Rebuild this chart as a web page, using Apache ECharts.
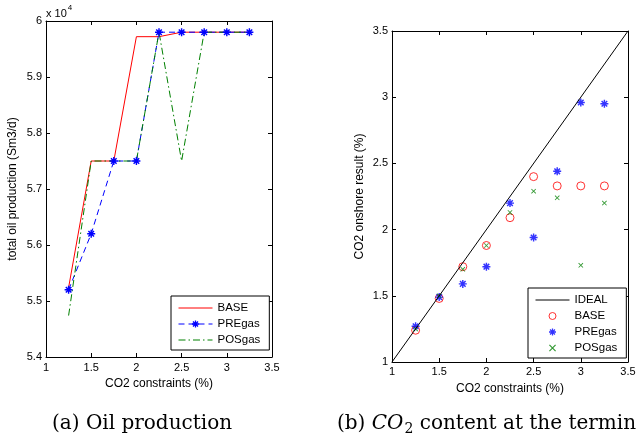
<!DOCTYPE html>
<html><head><meta charset="utf-8">
<script src="https://cdn.jsdelivr.net/npm/echarts@6/dist/echarts.min.js"></script>
<style>html,body{margin:0;padding:0;background:#fff}#c{width:636px;height:436px}</style>
</head><body><div id="c"></div>
<script>
// ---- data ----
const xCons = [1.25, 1.5, 1.75, 2, 2.25, 2.5, 2.75, 3, 3.25];
// (a) total oil production, units of 10^4 Sm3/d
const oilBase = [5.524, 5.75, 5.75, 5.972, 5.972, 5.98, 5.98, 5.98, 5.98];
const oilPre  = [5.52, 5.62, 5.75, 5.75, 5.98, 5.98, 5.98, 5.98, 5.98];
const oilPos  = [5.474, 5.75, 5.75, 5.75, 5.98, 5.75, 5.98, 5.98, 5.98];
// (b) CO2 onshore result (%)
const idealX = [1, 3.5];
const idealY = [1, 3.5];
const co2Base = [1.24, 1.48, 1.72, 1.88, 2.09, 2.40, 2.33, 2.33, 2.33];
const co2Pre  = [1.27, 1.49, 1.59, 1.72, 2.20, 1.94, 2.44, 2.96, 2.95];
const co2Pos  = [1.25, 1.50, 1.70, 1.88, 2.13, 2.29, 2.24, 1.73, 2.20];
const legendA = ['BASE', 'PREgas', 'POSgas'];
const legendB = ['IDEAL', 'BASE', 'PREgas', 'POSgas'];

const pair = (xs, ys) => xs.map((x, i) => [x, ys[i]]);
const STAR = 'path://M41,0L59,0L59,100L41,100ZM0,41L100,41L100,59L0,59ZM21.5,8.7L91.3,78.5L78.5,91.3L8.7,21.5ZM91.3,21.5L21.5,91.3L8.7,78.5L78.5,8.7Z';
const CROSS = 'path://M12,0L100,88L88,100L0,12ZM88,0L100,12L12,100L0,88Z';
const FONT = 'Liberation Sans';
const SERIF = 'DejaVu Serif';
const tickTxt = {color: '#000', fontSize: 11, fontFamily: FONT};
const blackLine = {lineStyle: {color: '#000', width: 1}};

function axisPair(kind, gi, min, max, interval, fmt, name, nameGap, margin) {
  const main = {
    type: 'value', gridIndex: gi, min, max, interval,
    position: kind === 'x' ? 'bottom' : 'left',
    axisLine: {show: true, onZero: false, ...blackLine},
    axisTick: {show: true, inside: true, length: 4, ...blackLine},
    splitLine: {show: false},
    axisLabel: {...tickTxt, margin, formatter: fmt},
    name, nameLocation: 'middle', nameGap,
    nameTextStyle: {color: '#000', fontSize: 12, fontFamily: FONT}
  };
  const mirror = {
    type: 'value', gridIndex: gi, min, max, interval,
    position: kind === 'x' ? 'top' : 'right',
    axisLine: {show: true, onZero: false, ...blackLine},
    axisTick: {show: true, inside: true, length: 4, ...blackLine},
    splitLine: {show: false}, axisLabel: {show: false}
  };
  return [main, mirror];
}
const fmt1 = v => String(+v.toFixed(1));

const xa = [...axisPair('x', 0, 1, 3.5, 0.5, fmt1, 'CO2 constraints (%)', 19, 5),
            ...axisPair('x', 1, 1, 3.5, 0.5, fmt1, 'CO2 constraints (%)', 21, 4)];
const ya = [...axisPair('y', 0, 5.4, 6, 0.1, fmt1, 'total oil production (Sm3/d)', 27, 4),
            ...axisPair('y', 1, 1, 3.5, 0.5, fmt1, 'CO2 onshore result (%)', 26, 4)];

const hidden = {opacity: 0};
const legendCommon = {
  orient: 'vertical', itemWidth: 34, itemGap: 4,
  padding: [6, 9, 4, 7],
  borderColor: '#000', borderWidth: 1, backgroundColor: '#fff',
  textStyle: {color: '#000', fontSize: 11.5, fontFamily: FONT},
  lineStyle: {width: 1},
  itemStyle: {borderWidth: 1},
  selectedMode: false
};
const chart = echarts.init(document.getElementById('c'), null, {renderer: 'canvas'});
chart.setOption({
  animation: false,
  backgroundColor: '#fff',
  grid: [
    {left: 46, top: 21, width: 226, height: 336, outerBoundsMode: 'none', containLabel: false},
    {left: 392, top: 31, width: 236, height: 331, outerBoundsMode: 'none', containLabel: false}
  ],
  xAxis: xa,
  yAxis: ya,
  legend: [
    Object.assign({}, legendCommon, {
      data: [
        {name: legendA[0], itemStyle: hidden},
        {name: legendA[1]},
        {name: legendA[2], itemStyle: hidden}
      ],
      left: 171, top: 296, itemHeight: 9
    }),
    Object.assign({}, legendCommon, {
      data: [
        {name: legendB[0], itemStyle: hidden},
        {name: legendB[1] + ' (b)'},
        {name: legendB[2] + ' (b)'},
        {name: legendB[3] + ' (b)'}
      ],
      formatter: n => n.replace(' (b)', ''),
      left: 528, top: 288, itemHeight: 7
    })
  ],
  series: [
    {name: 'BASE', type: 'line', xAxisIndex: 0, yAxisIndex: 0, data: pair(xCons, oilBase),
     symbol: 'none', lineStyle: {color: '#ff0000', width: 1}, itemStyle: {color: '#ff0000'}},
    {name: 'PREgas', type: 'line', xAxisIndex: 0, yAxisIndex: 0, data: pair(xCons, oilPre),
     symbol: STAR, symbolSize: 8, symbolKeepAspect: true,
     lineStyle: {color: '#0000ff', width: 1, type: [6, 4]}, itemStyle: {color: '#0000ff'}},
    {name: 'POSgas', type: 'line', xAxisIndex: 0, yAxisIndex: 0, data: pair(xCons, oilPos),
     symbol: 'none', lineStyle: {color: '#008000', width: 1, type: [7, 3, 1.5, 3]}, itemStyle: {color: '#008000'}},

    {name: 'IDEAL', type: 'line', xAxisIndex: 2, yAxisIndex: 2, data: pair(idealX, idealY),
     symbol: 'none', lineStyle: {color: '#000', width: 1}, itemStyle: {color: '#000'}},
    {name: 'BASE (b)', type: 'scatter', xAxisIndex: 2, yAxisIndex: 2, data: pair(xCons, co2Base),
     symbol: 'circle', symbolSize: 8,
     itemStyle: {color: 'rgba(255,255,255,0)', borderColor: '#ff0000', borderWidth: 1}},
    {name: 'PREgas (b)', type: 'scatter', xAxisIndex: 2, yAxisIndex: 2, data: pair(xCons, co2Pre),
     symbol: STAR, symbolSize: 8, symbolKeepAspect: true, itemStyle: {color: '#0000ff'}},
    {name: 'POSgas (b)', type: 'scatter', xAxisIndex: 2, yAxisIndex: 2, data: pair(xCons, co2Pos),
     symbol: CROSS, symbolSize: 5, symbolKeepAspect: true, itemStyle: {color: '#008000'}}
  ],
  graphic: [
    {type: 'text', left: 46, top: 4, style: {
      text: '{a|x 10}{b|4}', rich: {
        a: {fontSize: 11, fontFamily: FONT, fill: '#000', padding: [6, 0, 0, 0]},
        b: {fontSize: 8, fontFamily: FONT, fill: '#000', padding: [0, 0, 6, 1]}
      }}},
    {type: 'text', left: 52, top: 414, style: {
      text: '(a) Oil production', fontSize: 20, fontFamily: SERIF, fill: '#000'}},
    {type: 'text', left: 337, top: 414, style: {
      text: '{n|(b) }{i|CO}{s|2}{n| content at the terminal}', rich: {
        n: {fontSize: 20, fontFamily: SERIF, fill: '#000'},
        i: {fontSize: 20, fontFamily: SERIF, fontStyle: 'italic', fill: '#000'},
        s: {fontSize: 14, fontFamily: SERIF, fill: '#000', padding: [10, 0, 0, 1]}
      }}}
  ]
});
</script></body></html>
